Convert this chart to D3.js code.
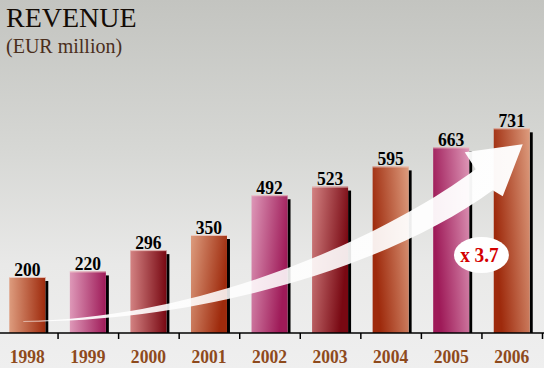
<!DOCTYPE html>
<html><head><meta charset="utf-8">
<script src="https://cdn.jsdelivr.net/npm/d3@7"></script>
<style>html,body{margin:0;padding:0;background:#e9e9e9;}svg{display:block;}</style>
</head><body>
<script>
const years = ["1998","1999","2000","2001","2002","2003","2004","2005","2006"];
const revenue = [200, 220, 296, 350, 492, 523, 595, 663, 731];
const barStyles = ["orangeH","pinkH","roseH","orangeD","pinkD","roseD","orangeR","pinkR","orangeR"];
const title = "REVENUE";
const subtitle = "(EUR million)";
const growthLabel = "x 3.7";

const W = 544, H = 368;
const svg = d3.select("body").append("svg").attr("width", W).attr("height", H);
const defs = svg.append("defs");

// background
const bg = defs.append("linearGradient").attr("id","bg").attr("x1",0).attr("y1",0).attr("x2",0).attr("y2",1);
bg.append("stop").attr("offset","0%").attr("stop-color","#c3c4c0");
bg.append("stop").attr("offset","40%").attr("stop-color","#d6d7d4");
bg.append("stop").attr("offset","72%").attr("stop-color","#e9e9e8");
bg.append("stop").attr("offset","100%").attr("stop-color","#efefef");
svg.append("rect").attr("width",W).attr("height",H).attr("fill","url(#bg)");

const palettes = {
  orange: ["#dd9c7e", "#9e2a0c"],
  pink:   ["#de98b8", "#9e1a58"],
  rose:   ["#d38282", "#780812"]
};
function grad(id, cols, x1,y1,x2,y2){
  const g = defs.append("linearGradient").attr("id",id)
    .attr("x1",x1).attr("y1",y1).attr("x2",x2).attr("y2",y2);
  g.append("stop").attr("offset","0%").attr("stop-color",cols[0]);
  g.append("stop").attr("offset","100%").attr("stop-color",cols[1]);
}
Object.entries(palettes).forEach(([k,c])=>{
  grad(k+"H", c, 0,0,1,0);
  grad(k+"D", c, 0,0,1,0.35);
  grad(k+"R", [c[1],c[0]], 0,0.35,1,0);
});

const x = d3.scaleBand().domain(years).range([-2.5, 542.5]).paddingInner(0).paddingOuter(0);
const y = d3.scaleLinear().domain([0, 800]).range([333, 109]);
const barW = 36, barOff = 11.8;
const serif = "Liberation Serif, Times New Roman, serif";

// shadows
svg.append("g").selectAll("rect").data(years).join("rect")
  .attr("x", (d)=>x(d)+barOff+barW)
  .attr("y", (d,i)=>y(revenue[i])+4)
  .attr("width", 3)
  .attr("height", (d,i)=>y(0)-y(revenue[i])-4)
  .attr("fill","#000");

// bars
svg.append("g").selectAll("rect").data(years).join("rect")
  .attr("x", (d)=>x(d)+barOff)
  .attr("y", (d,i)=>y(revenue[i]))
  .attr("width", barW)
  .attr("height", (d,i)=>y(0)-y(revenue[i]))
  .attr("fill", (d,i)=>`url(#${barStyles[i]})`);
svg.append("g").selectAll("line").data(years).join("line")
  .attr("x1", (d)=>x(d)+barOff).attr("x2",(d)=>x(d)+barOff+barW)
  .attr("y1", (d,i)=>y(revenue[i])+0.5).attr("y2",(d,i)=>y(revenue[i])+0.5)
  .attr("stroke","#f3d6d0").attr("stroke-width",1).attr("opacity",0.8);

// value labels
svg.append("g").selectAll("text").data(years).join("text")
  .attr("transform", (d,i)=>`translate(${x(d)+barOff+barW/2},${y(revenue[i])-1.5}) scale(0.9,1)`)
  .attr("text-anchor","middle")
  .attr("font-family",serif)
  .attr("font-weight","bold").attr("font-size",19.5)
  .attr("fill","#000")
  .text((d,i)=>revenue[i]);

// growth arrow
const ag = defs.append("linearGradient").attr("id","arrowG").attr("gradientUnits","userSpaceOnUse")
  .attr("x1",25).attr("y1",0).attr("x2",500).attr("y2",0);
ag.append("stop").attr("offset","0%").attr("stop-color","#fff").attr("stop-opacity",0.95);
ag.append("stop").attr("offset","45%").attr("stop-color","#fff").attr("stop-opacity",0.86);
ag.append("stop").attr("offset","100%").attr("stop-color","#fff").attr("stop-opacity",0.97);
const sx = x(years[0]) + barOff + 14, sy = y(0) - 12;
const tx = x(years[8]) + barOff + 29, ty = y(revenue[8]) + 16;
const p = d3.path();
p.moveTo(sx, sy);
p.bezierCurveTo(200, sy - 2, 380, 240, tx - 47, ty + 25);
p.lineTo(tx - 58, ty + 8);
p.lineTo(tx, ty);
p.lineTo(tx - 20, ty + 52);
p.lineTo(tx - 30, ty + 46);
p.bezierCurveTo(390, 266, 200, sy + 1, sx, sy + 0.5);
p.closePath();
svg.append("path").attr("d", p.toString()).attr("fill","url(#arrowG)");

// axis
const axisG = svg.append("g").attr("transform",`translate(0,${y(0)})`);
axisG.append("line").attr("x1",0).attr("x2",W).attr("y1",0).attr("y2",0)
  .attr("stroke","#000").attr("stroke-width",1.5);
axisG.selectAll("line.tick").data(years).join("line").attr("class","tick")
  .attr("x1",(d)=>x(d)+x.bandwidth()).attr("x2",(d)=>x(d)+x.bandwidth())
  .attr("y1",0).attr("y2",6).attr("stroke","#000").attr("stroke-width",1.5);
axisG.selectAll("text").data(years).join("text")
  .attr("transform",(d)=>`translate(${x(d)+barOff+barW/2},30) scale(0.9,1)`)
  .attr("text-anchor","middle")
  .attr("font-family",serif)
  .attr("font-weight","bold").attr("font-size",19.5)
  .attr("fill","#8e4a1c")
  .text(d=>d);

// growth badge
const bx = x(years[8]) - 0.5, by = 255;
svg.append("ellipse").attr("cx",bx).attr("cy",by).attr("rx",27.5).attr("ry",18).attr("fill","#fff");
svg.append("text").attr("transform",`translate(${bx-2},${by+7}) scale(0.92,1)`)
  .attr("text-anchor","middle")
  .attr("font-family",serif)
  .attr("font-weight","bold").attr("font-size",21)
  .attr("fill","#d40000").text(growthLabel);

// titles
svg.append("text").attr("x",6).attr("y",27)
  .attr("font-family",serif)
  .attr("font-size",28).attr("fill","#140c06").text(title);
svg.append("text").attr("x",6).attr("y",53)
  .attr("font-family",serif)
  .attr("font-size",20).attr("fill","#4a2e1c").text(subtitle);
</script>
</body></html>
